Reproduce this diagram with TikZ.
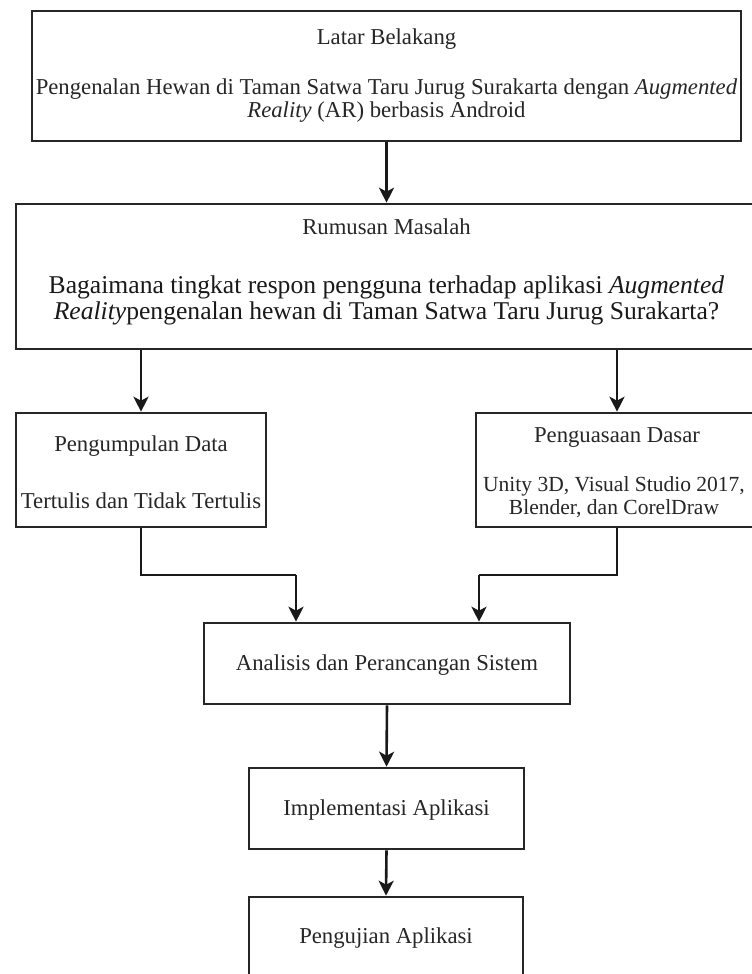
\documentclass[tikz,border=0pt]{standalone}
\usepackage{fontspec}
\setmainfont{Liberation Serif}
\usetikzlibrary{arrows.meta}
\begin{document}
\begin{tikzpicture}[x=1bp,y=-1bp,
 box/.style={draw=black!85, line width=2.6bp, fill=white, inner sep=0pt},
 lbl/.style={font=\fontsize{22.8}{23}\selectfont, inner sep=0pt, align=center, text=black!85},
 small/.style={font=\fontsize{21.6}{23}\selectfont, inner sep=0pt, align=center, text=black!85},
 big/.style={font=\fontsize{25.7}{26}\selectfont, inner sep=0pt, align=center, text=black!90},
 arr/.style={line width=2.6bp, draw=black!90, -{Stealth[length=15bp,width=15bp,inset=4bp]}},
 ln/.style={line width=2.6bp, draw=black!90}]
\useasboundingbox (0,0) rectangle (752,974);
\clip (0,0) rectangle (752,974);
% boxes
\node[box, minimum width=709bp, minimum height=130bp] (b1) at (386.5,76) {};
\node[box, minimum width=741bp, minimum height=145bp] (b2) at (386.5,276.5) {};
\node[box, minimum width=250bp, minimum height=114bp] (b3) at (141,470) {};
\node[box, minimum width=282bp, minimum height=114bp] (b4) at (617,470) {};
\node[box, minimum width=366bp, minimum height=81bp] (b5) at (387,663.5) {};
\node[box, minimum width=275bp, minimum height=81bp] (b6) at (386.5,808.5) {};
\node[box, minimum width=274bp, minimum height=82bp] (b7) at (386,938) {};
% texts
\node[lbl] (t1a) at (386.5,39) {Latar Belakang};
\node[lbl] (t1b) at (386.5,101) {Pengenalan Hewan di Taman Satwa Taru Jurug Surakarta dengan \textit{Augmented}\\\textit{Reality} (AR) berbasis Android};
\node[lbl] (t2a) at (386.5,227) {Rumusan Masalah};
\node[big] (t2b) at (386.5,300) {Bagaimana tingkat respon pengguna terhadap aplikasi \textit{Augmented}\\\textit{Reality}pengenalan hewan di Taman Satwa Taru Jurug Surakarta?};
\node[lbl] (t3a) at (141,446) {Pengumpulan Data};
\node[lbl] (t3b) at (141,501) {Tertulis dan Tidak Tertulis};
\node[lbl] (t4a) at (617,438) {Penguasaan Dasar};
\node[small] (t4b) at (614,497) {Unity 3D, Visual Studio 2017,\\Blender, dan CorelDraw};
\node[lbl] (t5) at (387,665) {Analisis dan Perancangan Sistem};
\node[lbl] (t6) at (386.5,810) {Implementasi Aplikasi};
\node[lbl] (t7) at (386,938) {Pengujian Aplikasi};
% connectors
\coordinate (m1) at (296,575);
\coordinate (m2) at (479,575);
\draw[arr] (b1.south) -- (b2.north);
\draw[arr] (b2.south -| b3.north) -- (b3.north);
\draw[arr] (b2.south -| b4.north) -- (b4.north);
\draw[ln] (b3.south) |- (m1);
\draw[arr] (m1) -- (m1 |- b5.north);
\draw[ln] (b4.south) |- (m2);
\draw[arr] (m2) -- (m2 |- b5.north);
\draw[arr] (b5.south) -- (b6.north);
\draw[arr] (b6.south) -- (b7.north);
\end{tikzpicture}
\end{document}
